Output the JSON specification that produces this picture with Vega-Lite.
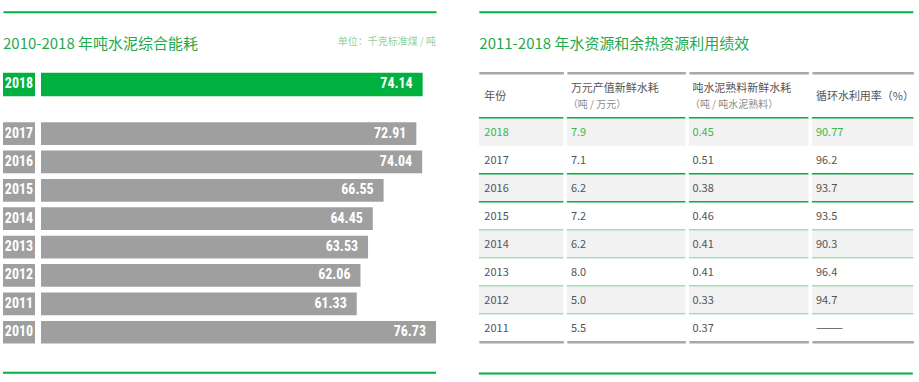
{
  "$schema": "https://vega.github.io/schema/vega-lite/v6.json",
  "padding": {"left": 2, "top": 11.7, "right": 0, "bottom": 0},
  "background": "white",
  "config": {"view": {"stroke": null}, "font": "Noto Sans CJK SC"},
  "datasets": {
    "titles": [
      {"panel": "left", "part": "title", "text": "2010-2018 年吨水泥综合能耗"},
      {"panel": "left", "part": "unit", "text": "单位：千克标准煤 / 吨"},
      {"panel": "right", "part": "title", "text": "2011-2018 年水资源和余热资源利用绩效"}
    ],
    "energy": [
      {"year": "2018", "value": 74.14},
      {"year": "2017", "value": 72.91},
      {"year": "2016", "value": 74.04},
      {"year": "2015", "value": 66.55},
      {"year": "2014", "value": 64.45},
      {"year": "2013", "value": 63.53},
      {"year": "2012", "value": 62.06},
      {"year": "2011", "value": 61.33},
      {"year": "2010", "value": 76.73}
    ],
    "columns": [
      {"column": "年份", "unit": ""},
      {"column": "万元产值新鲜水耗", "unit": "（吨 / 万元）"},
      {"column": "吨水泥熟料新鲜水耗", "unit": "（吨 / 吨水泥熟料）"},
      {"column": "循环水利用率（%）", "unit": ""}
    ],
    "table": [
      {"year": "2018", "column": "年份", "value": "2018"},
      {"year": "2017", "column": "年份", "value": "2017"},
      {"year": "2016", "column": "年份", "value": "2016"},
      {"year": "2015", "column": "年份", "value": "2015"},
      {"year": "2014", "column": "年份", "value": "2014"},
      {"year": "2013", "column": "年份", "value": "2013"},
      {"year": "2012", "column": "年份", "value": "2012"},
      {"year": "2011", "column": "年份", "value": "2011"},
      {"year": "2018", "column": "万元产值新鲜水耗", "value": "7.9"},
      {"year": "2017", "column": "万元产值新鲜水耗", "value": "7.1"},
      {"year": "2016", "column": "万元产值新鲜水耗", "value": "6.2"},
      {"year": "2015", "column": "万元产值新鲜水耗", "value": "7.2"},
      {"year": "2014", "column": "万元产值新鲜水耗", "value": "6.2"},
      {"year": "2013", "column": "万元产值新鲜水耗", "value": "8.0"},
      {"year": "2012", "column": "万元产值新鲜水耗", "value": "5.0"},
      {"year": "2011", "column": "万元产值新鲜水耗", "value": "5.5"},
      {"year": "2018", "column": "吨水泥熟料新鲜水耗", "value": "0.45"},
      {"year": "2017", "column": "吨水泥熟料新鲜水耗", "value": "0.51"},
      {"year": "2016", "column": "吨水泥熟料新鲜水耗", "value": "0.38"},
      {"year": "2015", "column": "吨水泥熟料新鲜水耗", "value": "0.46"},
      {"year": "2014", "column": "吨水泥熟料新鲜水耗", "value": "0.41"},
      {"year": "2013", "column": "吨水泥熟料新鲜水耗", "value": "0.41"},
      {"year": "2012", "column": "吨水泥熟料新鲜水耗", "value": "0.33"},
      {"year": "2011", "column": "吨水泥熟料新鲜水耗", "value": "0.37"},
      {"year": "2018", "column": "循环水利用率（%）", "value": "90.77"},
      {"year": "2017", "column": "循环水利用率（%）", "value": "96.2"},
      {"year": "2016", "column": "循环水利用率（%）", "value": "93.7"},
      {"year": "2015", "column": "循环水利用率（%）", "value": "93.5"},
      {"year": "2014", "column": "循环水利用率（%）", "value": "90.3"},
      {"year": "2013", "column": "循环水利用率（%）", "value": "96.4"},
      {"year": "2012", "column": "循环水利用率（%）", "value": "94.7"},
      {"year": "2011", "column": "循环水利用率（%）", "value": "———"}
    ]
  },
  "spacing": 40.85,
  "hconcat": [
    {
      "spacing": 10,
      "vconcat": [
        {
          "width": 433, "height": 50.6,
          "data": {"name": "titles"},
          "transform": [{"filter": "datum.panel === 'left'"}],
          "layer": [
            {
              "transform": [{"filter": "datum.part === 'title'"}],
              "mark": {"type": "text", "align": "left", "baseline": "top", "fontSize": 15, "color": "#1fa94d"},
              "encoding": {
                "x": {"field": "part", "type": "nominal", "bandPosition": 0, "scale": {"type": "band", "domain": ["title", "unit"], "paddingInner": 0, "paddingOuter": 0}, "axis": {"orient": "top", "domain": true, "domainColor": "#00b140", "domainWidth": 2, "ticks": false, "labels": false, "grid": false, "title": null}},
                "text": {"field": "text"}
              }
            },
            {
              "transform": [{"filter": "datum.part === 'unit'"}],
              "mark": {"type": "text", "align": "right", "baseline": "top", "fontSize": 10, "color": "#92d29f"},
              "encoding": {
                "x": {"field": "part", "type": "nominal", "bandPosition": 1, "scale": {"type": "band", "domain": ["title", "unit"], "paddingInner": 0, "paddingOuter": 0}, "axis": {"orient": "top", "domain": true, "domainColor": "#00b140", "domainWidth": 2, "ticks": false, "labels": false, "grid": false, "title": null}},
                "text": {"field": "text"}
              }
            }
          ]
        },
        {
          "spacing": 6,
          "hconcat": [
            {
              "width": 32, "height": 23.5,
              "data": {"name": "energy"},
              "transform": [{"filter": "datum.year === '2018'"}],
              "encoding": {"y": {"field": "year", "type": "nominal", "scale": {"type": "band", "paddingInner": 0, "paddingOuter": 0}, "axis": null}},
              "layer": [
                {"mark": {"type": "rect", "fill": "#00b140"}},
                {"mark": {"type": "text", "align": "center", "baseline": "middle", "color": "white", "font": "Roboto Condensed, Liberation Sans Narrow, DejaVu Sans Condensed, Liberation Sans, sans-serif", "fontWeight": "bold", "fontSize": 14}, "encoding": {"text": {"field": "year"}}}
              ]
            },
            {
              "width": 395, "height": 23.5,
              "data": {"name": "energy"},
              "transform": [{"filter": "datum.year === '2018'"}],
              "encoding": {
                "y": {"field": "year", "type": "nominal", "scale": {"type": "band", "paddingInner": 0, "paddingOuter": 0}, "axis": null},
                "x": {"field": "value", "type": "quantitative", "scale": {"domain": [0, 76.73], "nice": false, "zero": true}, "axis": null}
              },
              "layer": [
                {"mark": {"type": "bar", "fill": "#00b140"}},
                {"mark": {"type": "text", "align": "right", "baseline": "middle", "dx": -10, "color": "white", "font": "Roboto Condensed, Liberation Sans Narrow, DejaVu Sans Condensed, Liberation Sans, sans-serif", "fontWeight": "bold", "fontSize": 14}, "encoding": {"text": {"field": "value", "type": "quantitative", "format": ".2f"}}}
              ]
            }
          ]
        },
        {
          "spacing": 6,
          "hconcat": [
            {
              "width": 32, "height": 252.4,
              "data": {"name": "energy"},
              "transform": [{"filter": "datum.year !== '2018'"}],
              "encoding": {"y": {"field": "year", "type": "nominal", "scale": {"type": "band", "domain": ["2017", "2016", "2015", "2014", "2013", "2012", "2011", "2010"], "paddingInner": 0.2, "paddingOuter": 0.546}, "axis": null}},
              "layer": [
                {"mark": {"type": "rect", "fill": "#9f9f9f"}},
                {"mark": {"type": "text", "align": "center", "baseline": "middle", "color": "white", "font": "Roboto Condensed, Liberation Sans Narrow, DejaVu Sans Condensed, Liberation Sans, sans-serif", "fontWeight": "bold", "fontSize": 14}, "encoding": {"text": {"field": "year"}}}
              ]
            },
            {
              "width": 395, "height": 252.4,
              "data": {"name": "energy"},
              "transform": [{"filter": "datum.year !== '2018'"}],
              "encoding": {
                "y": {"field": "year", "type": "nominal", "scale": {"type": "band", "domain": ["2017", "2016", "2015", "2014", "2013", "2012", "2011", "2010"], "paddingInner": 0.2, "paddingOuter": 0.546}, "axis": null},
                "x": {"field": "value", "type": "quantitative", "scale": {"domain": [0, 76.73], "nice": false, "zero": true}, "axis": null}
              },
              "layer": [
                {"mark": {"type": "bar", "fill": "#9f9f9f"}},
                {"mark": {"type": "text", "align": "right", "baseline": "middle", "dx": -10, "color": "white", "font": "Roboto Condensed, Liberation Sans Narrow, DejaVu Sans Condensed, Liberation Sans, sans-serif", "fontWeight": "bold", "fontSize": 14}, "encoding": {"text": {"field": "value", "type": "quantitative", "format": ".2f"}}}
              ]
            }
          ]
        },
        {
          "width": 433, "height": 6.2,
          "data": {"values": [{"line": "bottom"}]},
          "mark": {"type": "rule", "color": "#00b140", "strokeWidth": 2},
          "encoding": {"y": {"field": "line", "type": "nominal", "axis": null}}
        }
      ]
    },
    {
      "spacing": 10.05,
      "vconcat": [
        {
          "width": 434, "height": 50.6,
          "data": {"name": "titles"},
          "transform": [{"filter": "datum.panel === 'right'"}],
          "mark": {"type": "text", "align": "left", "baseline": "top", "fontSize": 15, "color": "#1fa94d", "dx": 0.5},
          "encoding": {
            "x": {"field": "part", "type": "nominal", "bandPosition": 0, "scale": {"type": "band", "paddingInner": 0, "paddingOuter": 0}, "axis": {"orient": "top", "domain": true, "domainColor": "#00b140", "domainWidth": 2, "ticks": false, "labels": false, "grid": false, "title": null}},
            "text": {"field": "text"}
          }
        },
        {
          "spacing": 1.03,
          "hconcat": [
            {
              "spacing": 0,
              "vconcat": [
                {
                  "width": 84.5, "height": 43.35,
                  "data": {"name": "columns"},
                  "transform": [{"filter": {"field": "column", "equal": "年份"}}],
                  "mark": {"type": "text", "align": "left", "baseline": "middle", "dx": 5.5, "dy": 2.3, "fontSize": 11, "color": "#555555"},
                  "encoding": {
                    "x": {"field": "column", "type": "nominal", "bandPosition": 0, "scale": {"type": "band", "paddingInner": 0, "paddingOuter": 0}, "axis": {"orient": "top", "domain": true, "domainColor": "#a8a8a8", "domainWidth": 2.3, "ticks": false, "labels": false, "grid": false, "title": null}},
                    "text": {"field": "column"}
                  }
                },
                {
                  "width": 84.5, "height": 224,
                  "data": {"name": "table"},
                  "transform": [{"filter": {"field": "column", "equal": "年份"}}],
                  "layer": [
                    {"transform": [{"filter": {"field": "year", "oneOf": ["2018", "2016", "2014", "2012"]}}], "mark": {"type": "rect", "fill": "#f1f2f1"}, "encoding": {"x": {"field": "column", "type": "nominal", "scale": {"type": "band", "paddingInner": 0, "paddingOuter": 0}, "axis": {"orient": "bottom", "domain": true, "domainColor": "#a8a8a8", "domainWidth": 2.3, "ticks": false, "labels": false, "grid": false, "title": null}}, "y": {"field": "year", "type": "nominal", "scale": {"type": "band", "domain": ["2018", "2017", "2016", "2015", "2014", "2013", "2012", "2011"], "paddingInner": 0, "paddingOuter": 0}, "axis": null}}},
                    {"transform": [{"filter": {"field": "year", "oneOf": ["2018", "2016"]}}], "mark": {"type": "rule", "color": "#00b140", "strokeWidth": 1.3}, "encoding": {"y": {"field": "year", "type": "nominal", "bandPosition": 0, "scale": {"type": "band", "domain": ["2018", "2017", "2016", "2015", "2014", "2013", "2012", "2011"], "paddingInner": 0, "paddingOuter": 0}, "axis": null}}},
                    {"transform": [{"filter": {"field": "year", "equal": "2016"}}], "mark": {"type": "rule", "color": "#00b140", "strokeWidth": 1.3}, "encoding": {"y": {"field": "year", "type": "nominal", "bandPosition": 1, "scale": {"type": "band", "domain": ["2018", "2017", "2016", "2015", "2014", "2013", "2012", "2011"], "paddingInner": 0, "paddingOuter": 0}, "axis": null}}},
                    {"transform": [{"filter": {"field": "year", "oneOf": ["2014", "2012"]}}], "mark": {"type": "rule", "color": "#a3dfb5", "strokeWidth": 1.3}, "encoding": {"y": {"field": "year", "type": "nominal", "bandPosition": 0, "scale": {"type": "band", "domain": ["2018", "2017", "2016", "2015", "2014", "2013", "2012", "2011"], "paddingInner": 0, "paddingOuter": 0}, "axis": null}}},
                    {"transform": [{"filter": {"field": "year", "oneOf": ["2014", "2012"]}}], "mark": {"type": "rule", "color": "#a3dfb5", "strokeWidth": 1.3}, "encoding": {"y": {"field": "year", "type": "nominal", "bandPosition": 1, "scale": {"type": "band", "domain": ["2018", "2017", "2016", "2015", "2014", "2013", "2012", "2011"], "paddingInner": 0, "paddingOuter": 0}, "axis": null}}},
                    {"mark": {"type": "text", "align": "left", "baseline": "middle", "dx": 5.5, "dy": 1.5, "fontSize": 11}, "encoding": {"x": {"field": "column", "type": "nominal", "bandPosition": 0, "scale": {"type": "band", "paddingInner": 0, "paddingOuter": 0}, "axis": {"orient": "bottom", "domain": true, "domainColor": "#a8a8a8", "domainWidth": 2.3, "ticks": false, "labels": false, "grid": false, "title": null}}, "y": {"field": "year", "type": "nominal", "scale": {"type": "band", "domain": ["2018", "2017", "2016", "2015", "2014", "2013", "2012", "2011"], "paddingInner": 0, "paddingOuter": 0}, "axis": null}, "text": {"field": "value"}, "color": {"condition": {"test": "datum.year === '2018'", "value": "#3fb54a"}, "value": "#555555"}}}
                  ]
                }
              ]
            },
            {
              "spacing": 0,
              "vconcat": [
                {
                  "width": 118.5, "height": 43.35,
                  "data": {"name": "columns"},
                  "transform": [{"filter": {"field": "column", "equal": "万元产值新鲜水耗"}}],
                  "layer": [
                    {"mark": {"type": "text", "align": "left", "baseline": "middle", "dx": 4, "dy": -5.3, "fontSize": 11, "color": "#555555"}, "encoding": {"x": {"field": "column", "type": "nominal", "bandPosition": 0, "scale": {"type": "band", "paddingInner": 0, "paddingOuter": 0}, "axis": {"orient": "top", "domain": true, "domainColor": "#a8a8a8", "domainWidth": 2.3, "ticks": false, "labels": false, "grid": false, "title": null}}, "text": {"field": "column"}}},
                    {"mark": {"type": "text", "align": "left", "baseline": "middle", "dx": 1, "dy": 10.4, "fontSize": 10, "color": "#8c8c8c"}, "encoding": {"x": {"field": "column", "type": "nominal", "bandPosition": 0, "scale": {"type": "band", "paddingInner": 0, "paddingOuter": 0}, "axis": {"orient": "top", "domain": true, "domainColor": "#a8a8a8", "domainWidth": 2.3, "ticks": false, "labels": false, "grid": false, "title": null}}, "text": {"field": "unit"}}}
                  ]
                },
                {
                  "width": 118.5, "height": 224,
                  "data": {"name": "table"},
                  "transform": [{"filter": {"field": "column", "equal": "万元产值新鲜水耗"}}],
                  "layer": [
                    {"transform": [{"filter": {"field": "year", "oneOf": ["2018", "2016", "2014", "2012"]}}], "mark": {"type": "rect", "fill": "#f1f2f1"}, "encoding": {"x": {"field": "column", "type": "nominal", "scale": {"type": "band", "paddingInner": 0, "paddingOuter": 0}, "axis": {"orient": "bottom", "domain": true, "domainColor": "#a8a8a8", "domainWidth": 2.3, "ticks": false, "labels": false, "grid": false, "title": null}}, "y": {"field": "year", "type": "nominal", "scale": {"type": "band", "domain": ["2018", "2017", "2016", "2015", "2014", "2013", "2012", "2011"], "paddingInner": 0, "paddingOuter": 0}, "axis": null}}},
                    {"transform": [{"filter": {"field": "year", "oneOf": ["2018", "2016"]}}], "mark": {"type": "rule", "color": "#00b140", "strokeWidth": 1.3}, "encoding": {"y": {"field": "year", "type": "nominal", "bandPosition": 0, "scale": {"type": "band", "domain": ["2018", "2017", "2016", "2015", "2014", "2013", "2012", "2011"], "paddingInner": 0, "paddingOuter": 0}, "axis": null}}},
                    {"transform": [{"filter": {"field": "year", "equal": "2016"}}], "mark": {"type": "rule", "color": "#00b140", "strokeWidth": 1.3}, "encoding": {"y": {"field": "year", "type": "nominal", "bandPosition": 1, "scale": {"type": "band", "domain": ["2018", "2017", "2016", "2015", "2014", "2013", "2012", "2011"], "paddingInner": 0, "paddingOuter": 0}, "axis": null}}},
                    {"transform": [{"filter": {"field": "year", "oneOf": ["2014", "2012"]}}], "mark": {"type": "rule", "color": "#a3dfb5", "strokeWidth": 1.3}, "encoding": {"y": {"field": "year", "type": "nominal", "bandPosition": 0, "scale": {"type": "band", "domain": ["2018", "2017", "2016", "2015", "2014", "2013", "2012", "2011"], "paddingInner": 0, "paddingOuter": 0}, "axis": null}}},
                    {"transform": [{"filter": {"field": "year", "oneOf": ["2014", "2012"]}}], "mark": {"type": "rule", "color": "#a3dfb5", "strokeWidth": 1.3}, "encoding": {"y": {"field": "year", "type": "nominal", "bandPosition": 1, "scale": {"type": "band", "domain": ["2018", "2017", "2016", "2015", "2014", "2013", "2012", "2011"], "paddingInner": 0, "paddingOuter": 0}, "axis": null}}},
                    {"mark": {"type": "text", "align": "left", "baseline": "middle", "dx": 4, "dy": 1.5, "fontSize": 11}, "encoding": {"x": {"field": "column", "type": "nominal", "bandPosition": 0, "scale": {"type": "band", "paddingInner": 0, "paddingOuter": 0}, "axis": {"orient": "bottom", "domain": true, "domainColor": "#a8a8a8", "domainWidth": 2.3, "ticks": false, "labels": false, "grid": false, "title": null}}, "y": {"field": "year", "type": "nominal", "scale": {"type": "band", "domain": ["2018", "2017", "2016", "2015", "2014", "2013", "2012", "2011"], "paddingInner": 0, "paddingOuter": 0}, "axis": null}, "text": {"field": "value"}, "color": {"condition": {"test": "datum.year === '2018'", "value": "#3fb54a"}, "value": "#555555"}}}
                  ]
                }
              ]
            },
            {
              "spacing": 0,
              "vconcat": [
                {
                  "width": 119.5, "height": 43.35,
                  "data": {"name": "columns"},
                  "transform": [{"filter": {"field": "column", "equal": "吨水泥熟料新鲜水耗"}}],
                  "layer": [
                    {"mark": {"type": "text", "align": "left", "baseline": "middle", "dx": 3.5, "dy": -5.3, "fontSize": 11, "color": "#555555"}, "encoding": {"x": {"field": "column", "type": "nominal", "bandPosition": 0, "scale": {"type": "band", "paddingInner": 0, "paddingOuter": 0}, "axis": {"orient": "top", "domain": true, "domainColor": "#a8a8a8", "domainWidth": 2.3, "ticks": false, "labels": false, "grid": false, "title": null}}, "text": {"field": "column"}}},
                    {"mark": {"type": "text", "align": "left", "baseline": "middle", "dx": 1, "dy": 10.4, "fontSize": 10, "color": "#8c8c8c"}, "encoding": {"x": {"field": "column", "type": "nominal", "bandPosition": 0, "scale": {"type": "band", "paddingInner": 0, "paddingOuter": 0}, "axis": {"orient": "top", "domain": true, "domainColor": "#a8a8a8", "domainWidth": 2.3, "ticks": false, "labels": false, "grid": false, "title": null}}, "text": {"field": "unit"}}}
                  ]
                },
                {
                  "width": 119.5, "height": 224,
                  "data": {"name": "table"},
                  "transform": [{"filter": {"field": "column", "equal": "吨水泥熟料新鲜水耗"}}],
                  "layer": [
                    {"transform": [{"filter": {"field": "year", "oneOf": ["2018", "2016", "2014", "2012"]}}], "mark": {"type": "rect", "fill": "#f1f2f1"}, "encoding": {"x": {"field": "column", "type": "nominal", "scale": {"type": "band", "paddingInner": 0, "paddingOuter": 0}, "axis": {"orient": "bottom", "domain": true, "domainColor": "#a8a8a8", "domainWidth": 2.3, "ticks": false, "labels": false, "grid": false, "title": null}}, "y": {"field": "year", "type": "nominal", "scale": {"type": "band", "domain": ["2018", "2017", "2016", "2015", "2014", "2013", "2012", "2011"], "paddingInner": 0, "paddingOuter": 0}, "axis": null}}},
                    {"transform": [{"filter": {"field": "year", "oneOf": ["2018", "2016"]}}], "mark": {"type": "rule", "color": "#00b140", "strokeWidth": 1.3}, "encoding": {"y": {"field": "year", "type": "nominal", "bandPosition": 0, "scale": {"type": "band", "domain": ["2018", "2017", "2016", "2015", "2014", "2013", "2012", "2011"], "paddingInner": 0, "paddingOuter": 0}, "axis": null}}},
                    {"transform": [{"filter": {"field": "year", "equal": "2016"}}], "mark": {"type": "rule", "color": "#00b140", "strokeWidth": 1.3}, "encoding": {"y": {"field": "year", "type": "nominal", "bandPosition": 1, "scale": {"type": "band", "domain": ["2018", "2017", "2016", "2015", "2014", "2013", "2012", "2011"], "paddingInner": 0, "paddingOuter": 0}, "axis": null}}},
                    {"transform": [{"filter": {"field": "year", "oneOf": ["2014", "2012"]}}], "mark": {"type": "rule", "color": "#a3dfb5", "strokeWidth": 1.3}, "encoding": {"y": {"field": "year", "type": "nominal", "bandPosition": 0, "scale": {"type": "band", "domain": ["2018", "2017", "2016", "2015", "2014", "2013", "2012", "2011"], "paddingInner": 0, "paddingOuter": 0}, "axis": null}}},
                    {"transform": [{"filter": {"field": "year", "oneOf": ["2014", "2012"]}}], "mark": {"type": "rule", "color": "#a3dfb5", "strokeWidth": 1.3}, "encoding": {"y": {"field": "year", "type": "nominal", "bandPosition": 1, "scale": {"type": "band", "domain": ["2018", "2017", "2016", "2015", "2014", "2013", "2012", "2011"], "paddingInner": 0, "paddingOuter": 0}, "axis": null}}},
                    {"mark": {"type": "text", "align": "left", "baseline": "middle", "dx": 3.5, "dy": 1.5, "fontSize": 11}, "encoding": {"x": {"field": "column", "type": "nominal", "bandPosition": 0, "scale": {"type": "band", "paddingInner": 0, "paddingOuter": 0}, "axis": {"orient": "bottom", "domain": true, "domainColor": "#a8a8a8", "domainWidth": 2.3, "ticks": false, "labels": false, "grid": false, "title": null}}, "y": {"field": "year", "type": "nominal", "scale": {"type": "band", "domain": ["2018", "2017", "2016", "2015", "2014", "2013", "2012", "2011"], "paddingInner": 0, "paddingOuter": 0}, "axis": null}, "text": {"field": "value"}, "color": {"condition": {"test": "datum.year === '2018'", "value": "#3fb54a"}, "value": "#555555"}}}
                  ]
                }
              ]
            },
            {
              "spacing": 0,
              "vconcat": [
                {
                  "width": 101.5, "height": 43.35,
                  "data": {"name": "columns"},
                  "transform": [{"filter": {"field": "column", "equal": "循环水利用率（%）"}}],
                  "mark": {"type": "text", "align": "left", "baseline": "middle", "dx": 4, "dy": 2.3, "fontSize": 11, "color": "#555555"},
                  "encoding": {
                    "x": {"field": "column", "type": "nominal", "bandPosition": 0, "scale": {"type": "band", "paddingInner": 0, "paddingOuter": 0}, "axis": {"orient": "top", "domain": true, "domainColor": "#a8a8a8", "domainWidth": 2.3, "ticks": false, "labels": false, "grid": false, "title": null}},
                    "text": {"field": "column"}
                  }
                },
                {
                  "width": 101.5, "height": 224,
                  "data": {"name": "table"},
                  "transform": [{"filter": {"field": "column", "equal": "循环水利用率（%）"}}],
                  "layer": [
                    {"transform": [{"filter": {"field": "year", "oneOf": ["2018", "2016", "2014", "2012"]}}], "mark": {"type": "rect", "fill": "#f1f2f1"}, "encoding": {"x": {"field": "column", "type": "nominal", "scale": {"type": "band", "paddingInner": 0, "paddingOuter": 0}, "axis": {"orient": "bottom", "domain": true, "domainColor": "#a8a8a8", "domainWidth": 2.3, "ticks": false, "labels": false, "grid": false, "title": null}}, "y": {"field": "year", "type": "nominal", "scale": {"type": "band", "domain": ["2018", "2017", "2016", "2015", "2014", "2013", "2012", "2011"], "paddingInner": 0, "paddingOuter": 0}, "axis": null}}},
                    {"transform": [{"filter": {"field": "year", "oneOf": ["2018", "2016"]}}], "mark": {"type": "rule", "color": "#00b140", "strokeWidth": 1.3}, "encoding": {"y": {"field": "year", "type": "nominal", "bandPosition": 0, "scale": {"type": "band", "domain": ["2018", "2017", "2016", "2015", "2014", "2013", "2012", "2011"], "paddingInner": 0, "paddingOuter": 0}, "axis": null}}},
                    {"transform": [{"filter": {"field": "year", "equal": "2016"}}], "mark": {"type": "rule", "color": "#00b140", "strokeWidth": 1.3}, "encoding": {"y": {"field": "year", "type": "nominal", "bandPosition": 1, "scale": {"type": "band", "domain": ["2018", "2017", "2016", "2015", "2014", "2013", "2012", "2011"], "paddingInner": 0, "paddingOuter": 0}, "axis": null}}},
                    {"transform": [{"filter": {"field": "year", "oneOf": ["2014", "2012"]}}], "mark": {"type": "rule", "color": "#a3dfb5", "strokeWidth": 1.3}, "encoding": {"y": {"field": "year", "type": "nominal", "bandPosition": 0, "scale": {"type": "band", "domain": ["2018", "2017", "2016", "2015", "2014", "2013", "2012", "2011"], "paddingInner": 0, "paddingOuter": 0}, "axis": null}}},
                    {"transform": [{"filter": {"field": "year", "oneOf": ["2014", "2012"]}}], "mark": {"type": "rule", "color": "#a3dfb5", "strokeWidth": 1.3}, "encoding": {"y": {"field": "year", "type": "nominal", "bandPosition": 1, "scale": {"type": "band", "domain": ["2018", "2017", "2016", "2015", "2014", "2013", "2012", "2011"], "paddingInner": 0, "paddingOuter": 0}, "axis": null}}},
                    {"mark": {"type": "text", "align": "left", "baseline": "middle", "dx": 4, "dy": 1.5, "fontSize": 11}, "encoding": {"x": {"field": "column", "type": "nominal", "bandPosition": 0, "scale": {"type": "band", "paddingInner": 0, "paddingOuter": 0}, "axis": {"orient": "bottom", "domain": true, "domainColor": "#a8a8a8", "domainWidth": 2.3, "ticks": false, "labels": false, "grid": false, "title": null}}, "y": {"field": "year", "type": "nominal", "scale": {"type": "band", "domain": ["2018", "2017", "2016", "2015", "2014", "2013", "2012", "2011"], "paddingInner": 0, "paddingOuter": 0}, "axis": null}, "text": {"field": "value"}, "color": {"condition": {"test": "datum.year === '2018'", "value": "#3fb54a"}, "value": "#555555"}}}
                  ]
                }
              ]
            }
          ]
        },
        {
          "width": 434, "height": 43.2,
          "data": {"values": [{"line": "bottom"}]},
          "mark": {"type": "rule", "color": "#00b140", "strokeWidth": 2},
          "encoding": {"y": {"field": "line", "type": "nominal", "axis": null}}
        }
      ]
    }
  ]
}
